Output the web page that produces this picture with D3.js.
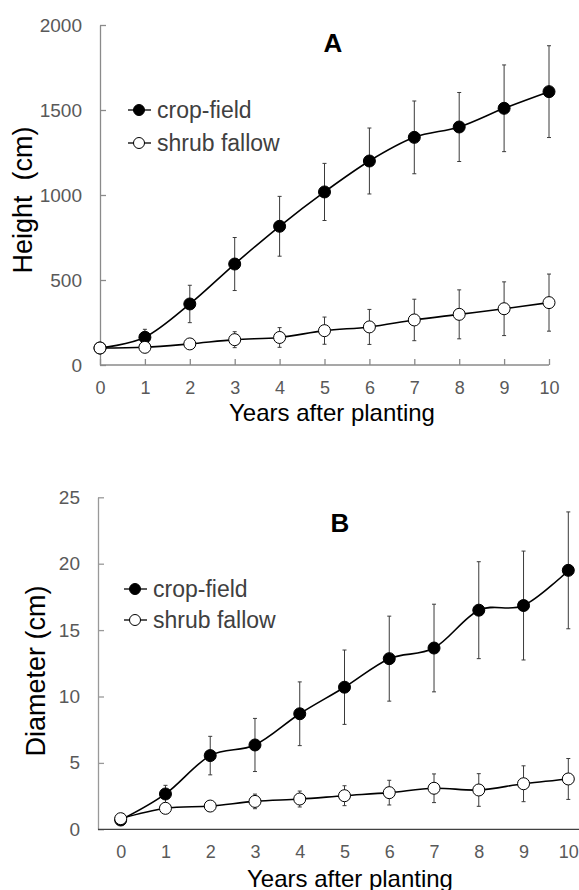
<!DOCTYPE html>
<html>
<head>
<meta charset="utf-8">
<script src="https://cdn.jsdelivr.net/npm/d3@7"></script>
<style>
  body { margin: 0; background: #fff; }
  text { font-family: "Liberation Sans", Arial, sans-serif; }
</style>
</head>
<body>
<script>
// data

var years = [0, 1, 2, 3, 4, 5, 6, 7, 8, 9, 10];

// A: height (cm)
var heightCrop = [100, 163, 359, 594, 816, 1018, 1200, 1339, 1400, 1510, 1608];
var heightCropErr = [0, 47, 110, 156, 176, 168, 194, 214, 203, 255, 270];
var heightShrub = [100, 104, 124, 149, 162, 202, 224, 265, 298, 331, 367];
var heightShrubErr = [0, 5, 10, 47, 58, 80, 103, 122, 144, 158, 168];
var heightTicks = [0, 500, 1000, 1500, 2000];

// B: diameter (cm)
var diamCrop = [0.7, 2.66, 5.55, 6.35, 8.7, 10.7, 12.85, 13.65, 16.5, 16.85, 19.5];
var diamCropErr = [0, 0.65, 1.45, 2.0, 2.4, 2.8, 3.2, 3.3, 3.65, 4.1, 4.4];
var diamShrub = [0.8, 1.58, 1.75, 2.1, 2.28, 2.53, 2.76, 3.09, 2.96, 3.43, 3.79];
var diamShrubErr = [0, 0.1, 0.15, 0.55, 0.6, 0.75, 0.93, 1.08, 1.23, 1.35, 1.54];
var diamTicks = [0, 5, 10, 15, 20, 25];

var seriesNames = ["crop-field", "shrub fallow"];

var width = 579,
    height = 890;

var svg = d3.select("body")
            .append("svg")
            .attr("width", width)
            .attr("height", height);

var line = d3.line().curve(d3.curveCatmullRom.alpha(0));
var fmt = d3.format("d");

function drawPanel(p) {
    var x = d3.scaleLinear().domain([0, 10]).range(p.xRange);
    var y = d3.scaleLinear().domain(p.yDomain).range(p.yRange);
    var g = svg.append("g");

    // y axis, ticks pointing inward
    var ya = g.append("g")
        .attr("transform", "translate(" + p.yAxisX + ",0)")
        .call(d3.axisLeft(y).tickValues(p.yTicks).tickFormat(fmt)
            .tickSize(-6).tickSizeOuter(0).tickPadding(18));
    ya.select(".domain").attr("stroke", p.yAxisColor).attr("stroke-width", 1.3);
    ya.selectAll(".tick line").attr("stroke", p.yAxisColor).attr("stroke-width", 1.3);
    ya.selectAll("text").attr("fill", "#595959").attr("font-size", 19);

    // x axis
    var xa = g.append("g")
        .attr("transform", "translate(0," + y(0) + ")")
        .call(d3.axisBottom(x).tickValues(years).tickFormat(fmt)
            .tickSize(p.xTickSize).tickSizeOuter(0).tickPadding(p.xPad));
    xa.select(".domain").remove();
    xa.selectAll(".tick line").attr("stroke", p.xAxisColor).attr("stroke-width", 1.3);
    xa.selectAll("text").attr("fill", "#595959").attr("font-size", 18);
    xa.append("line")
        .attr("x1", p.yAxisX).attr("x2", p.xAxisEnd)
        .attr("stroke", p.xAxisColor).attr("stroke-width", 1.3);

    // axis titles
    g.append("text")
        .attr("x", p.xLabelPos[0]).attr("y", p.xLabelPos[1])
        .attr("text-anchor", "middle")
        .attr("font-size", 24)
        .attr("fill", "#000")
        .text("Years after planting");
    g.append("text")
        .attr("transform", "translate(" + p.yLabelPos[0] + "," + p.yLabelPos[1] + ") rotate(-90)")
        .attr("text-anchor", "middle")
        .attr("font-size", 27)
        .attr("fill", "#000")
        .style("white-space", "pre")
        .text(p.yLabel);

    // panel letter
    g.append("text")
        .attr("x", p.letterPos[0]).attr("y", p.letterPos[1])
        .attr("text-anchor", "middle")
        .attr("font-size", 26)
        .attr("font-weight", "bold")
        .text(p.letter);

    // series: crop first, shrub drawn on top
    p.series.forEach(function(s) {
        var pts = years.map(function(yr, i) { return { x: yr, v: s.values[i], e: s.err[i] }; });
        var eb = g.append("g").attr("stroke", "#3a3a3a").attr("stroke-width", 1);
        pts.forEach(function(d) {
            if (!d.e) return;
            var cx = x(d.x), y0 = y(d.v - d.e), y1 = y(d.v + d.e);
            eb.append("line").attr("x1", cx).attr("x2", cx).attr("y1", y0).attr("y2", y1);
            eb.append("line").attr("x1", cx - 2).attr("x2", cx + 2).attr("y1", y0).attr("y2", y0);
            eb.append("line").attr("x1", cx - 2).attr("x2", cx + 2).attr("y1", y1).attr("y2", y1);
        });
        g.append("path")
            .attr("d", line(pts.map(function(d) { return [x(d.x), y(d.v)]; })))
            .attr("fill", "none")
            .attr("stroke", "#000")
            .attr("stroke-width", 1.6);
        g.selectAll(null)
            .data(pts)
            .enter().append("circle")
            .attr("cx", function(d) { return x(d.x); })
            .attr("cy", function(d) { return y(d.v); })
            .attr("r", 6)
            .attr("fill", s.fill)
            .attr("stroke", "#000")
            .attr("stroke-width", 1);
    });

    // legend
    var lg = g.append("g");
    p.series.forEach(function(s, i) {
        var ly = p.legendY[i];
        lg.append("line")
            .attr("x1", p.legendX - 11).attr("x2", p.legendX + 12)
            .attr("y1", ly).attr("y2", ly)
            .attr("stroke", "#000").attr("stroke-width", 1.3);
        lg.append("circle")
            .attr("cx", p.legendX).attr("cy", ly).attr("r", 5.5)
            .attr("fill", s.fill).attr("stroke", "#000").attr("stroke-width", 1);
        lg.append("text")
            .attr("x", p.legendX + 18).attr("y", ly + 8)
            .attr("font-size", 23)
            .attr("fill", "#404040")
            .text(seriesNames[i]);
    });
}

drawPanel({
    letter: "A",
    letterPos: [333, 52],
    xRange: [100, 549],
    yDomain: [0, 2000],
    yRange: [365, 25],
    yTicks: heightTicks,
    yAxisX: 100,
    yAxisColor: "#8a8a8a",
    xAxisColor: "#8a8a8a",
    xAxisEnd: 549,
    xTickSize: -6,
    xPad: 16,
    xLabelPos: [332, 421],
    yLabel: "Height  (cm)",
    yLabelPos: [32, 200],
    legendX: 139,
    legendY: [110, 143],
    series: [
        { values: heightCrop, err: heightCropErr, fill: "#000" },
        { values: heightShrub, err: heightShrubErr, fill: "#fff" }
    ]
});

drawPanel({
    letter: "B",
    letterPos: [340, 532],
    xRange: [120.7, 568.3],
    yDomain: [0, 25],
    yRange: [829.3, 497.3],
    yTicks: diamTicks,
    yAxisX: 98,
    yAxisColor: "#999",
    xAxisColor: "#404040",
    xAxisEnd: 579,
    xTickSize: 0,
    xPad: 16,
    xLabelPos: [350, 887],
    yLabel: "Diameter (cm)",
    yLabelPos: [45, 671],
    legendX: 135,
    legendY: [589, 620],
    series: [
        { values: diamCrop, err: diamCropErr, fill: "#000" },
        { values: diamShrub, err: diamShrubErr, fill: "#fff" }
    ]
});
</script>
</body>
</html>
